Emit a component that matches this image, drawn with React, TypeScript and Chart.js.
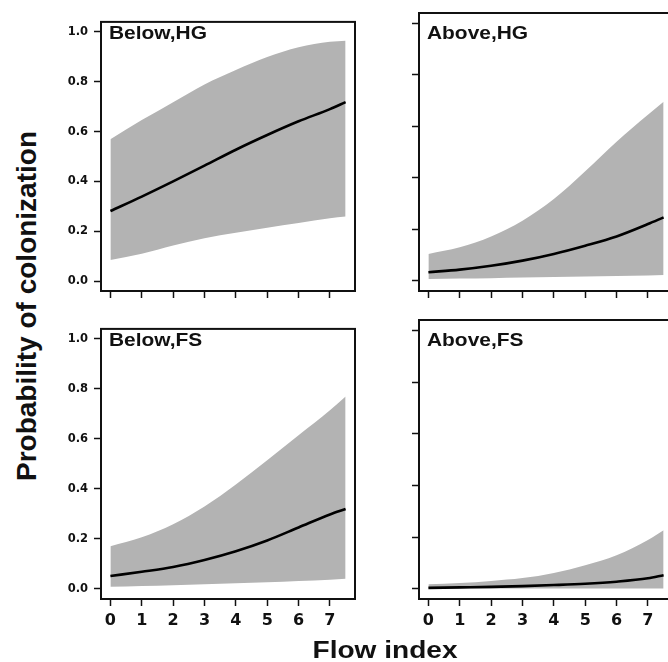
import React, { useEffect, useRef } from "react";
import { Chart, registerables } from "chart.js";
Chart.register(...registerables);

// ---- data ----
const flowIndex = [0, 1, 2, 3, 4, 5, 6, 7, 7.5];
const xTickValues = [0, 1, 2, 3, 4, 5, 6, 7];
const yTickValues = [0, 0.2, 0.4, 0.6, 0.8, 1.0];

const belowHGMean = [0.281, 0.339, 0.4, 0.463, 0.527, 0.586, 0.641, 0.69, 0.718];
const belowHGUpper = [0.569, 0.646, 0.718, 0.789, 0.847, 0.899, 0.938, 0.96, 0.964];
const belowHGLower = [0.084, 0.11, 0.143, 0.172, 0.194, 0.214, 0.233, 0.252, 0.259];

const aboveHGMean = [0.033, 0.043, 0.058, 0.078, 0.104, 0.136, 0.172, 0.22, 0.246];
const aboveHGUpper = [0.104, 0.13, 0.172, 0.233, 0.317, 0.425, 0.54, 0.645, 0.695];
const aboveHGLower = [0.007, 0.009, 0.01, 0.012, 0.014, 0.016, 0.018, 0.02, 0.022];

const belowFSMean = [0.052, 0.069, 0.088, 0.116, 0.151, 0.194, 0.246, 0.298, 0.32];
const belowFSUpper = [0.171, 0.207, 0.259, 0.33, 0.418, 0.515, 0.615, 0.715, 0.77];
const belowFSLower = [0.009, 0.012, 0.015, 0.019, 0.023, 0.027, 0.032, 0.037, 0.041];

const aboveFSMean = [0.003, 0.005, 0.007, 0.01, 0.014, 0.019, 0.027, 0.04, 0.052];
const aboveFSUpper = [0.017, 0.022, 0.03, 0.041, 0.061, 0.091, 0.129, 0.188, 0.226];
const aboveFSLower = [0.001, 0.001, 0.001, 0.001, 0.001, 0.001, 0.001, 0.001, 0.001];

const xTitle = "Flow index";
const yTitle = "Probability of colonization";

// ---- layout ----
const YW = 45; // fixed y-axis width
const XH = 40; // fixed x-axis height
const PT = 4;
const PR = 4;

const frame = {
  id: "frame",
  afterDatasetsDraw(chart: any) {
    const { ctx, chartArea: a } = chart;
    ctx.save();
    ctx.strokeStyle = "#111";
    ctx.lineWidth = 2;
    ctx.strokeRect(a.left, a.top, a.right - a.left, a.bottom - a.top);
    ctx.restore();
  },
};

type PanelProps = {
  left: number;
  top: number;
  w: number;
  h: number;
  label: string;
  mean: number[];
  upper: number[];
  lower: number[];
  showY: boolean;
  showX: boolean;
};

function Panel(p: PanelProps) {
  const ref = useRef<HTMLCanvasElement>(null);
  const cw = YW + p.w + PR;
  const ch = PT + p.h + XH;
  useEffect(() => {
    const toPts = (arr: number[]) => flowIndex.map((x, i) => ({ x, y: arr[i] }));
    const chart = new Chart(ref.current!, {
      type: "line",
      data: {
        datasets: [
          {
            data: toPts(p.mean),
            borderColor: "#000",
            borderWidth: 2.6,
            pointRadius: 0,
            fill: false,
            cubicInterpolationMode: "monotone",
          },
          {
            data: toPts(p.upper),
            borderColor: "rgba(0,0,0,0)",
            borderWidth: 0,
            backgroundColor: "#b3b3b3",
            pointRadius: 0,
            fill: "+1",
            cubicInterpolationMode: "monotone",
          },
          {
            data: toPts(p.lower),
            borderColor: "rgba(0,0,0,0)",
            borderWidth: 0,
            pointRadius: 0,
            fill: false,
            cubicInterpolationMode: "monotone",
          },
        ],
      } as any,
      options: {
        animation: false,
        responsive: false,
        devicePixelRatio: 1,
        layout: { padding: { left: 0, top: PT, right: PR, bottom: 0 } },
        plugins: { legend: { display: false }, tooltip: { enabled: false } },
        events: [],
        scales: {
          x: {
            type: "linear",
            min: -0.3,
            max: 7.8,
            afterFit: (s: any) => {
              s.height = XH;
            },
            afterBuildTicks: (s: any) => {
              s.ticks = xTickValues.map((v) => ({ value: v }));
            },
            border: { display: false },
            grid: {
              drawOnChartArea: false,
              drawTicks: true,
              tickLength: 7,
              tickColor: "#111",
              tickWidth: 1.5,
              color: "#111",
            },
            ticks: {
              display: p.showX,
              padding: 5,
              color: "#111",
              maxRotation: 0,
              autoSkip: false,
              font: { family: "'DejaVu Sans', sans-serif", weight: "bold", size: 16 },
              callback: (v: any) => String(v),
            },
          },
          y: {
            type: "linear",
            min: -0.04,
            max: 1.04,
            afterFit: (s: any) => {
              s.width = YW;
            },
            afterBuildTicks: (s: any) => {
              s.ticks = yTickValues.map((v) => ({ value: v }));
            },
            border: { display: false },
            grid: {
              drawOnChartArea: false,
              drawTicks: true,
              tickLength: 7,
              tickColor: "#111",
              tickWidth: 1.5,
              color: "#111",
            },
            ticks: {
              display: p.showY,
              padding: 6,
              color: "#111",
              autoSkip: false,
              font: { family: "'DejaVu Sans', sans-serif", weight: "bold", size: 11.5 },
              callback: (v: any) => Number(v).toFixed(1),
            },
          },
        },
      } as any,
      plugins: [frame],
    });
    return () => chart.destroy();
  }, []);
  return (
    <>
      <canvas
        ref={ref}
        width={cw}
        height={ch}
        style={{ position: "absolute", left: p.left - YW, top: p.top - PT, width: cw, height: ch }}
      />
      <div
        style={{
          position: "absolute",
          left: p.left + 8,
          top: p.top + 10.7,
          fontFamily: "'Liberation Sans', Arial, sans-serif",
          fontWeight: "bold",
          fontSize: 18.5,
          lineHeight: "18.5px",
          whiteSpace: "nowrap",
          color: "#111",
          transform: "scaleX(1.13)",
          transformOrigin: "left top",
        }}
      >
        {p.label}
      </div>
    </>
  );
}

export default function App() {
  const W = 254;
  const H = 278;
  return (
    <div
      style={{
        position: "fixed",
        left: 0,
        top: 0,
        width: 668,
        height: 662,
        overflow: "hidden",
        background: "#fff",
      }}
    >
      <Panel left={101} top={13} w={W} h={H} label="Below,HG" mean={belowHGMean} upper={belowHGUpper} lower={belowHGLower} showY={true} showX={false} />
      <Panel left={419} top={13} w={W} h={H} label="Above,HG" mean={aboveHGMean} upper={aboveHGUpper} lower={aboveHGLower} showY={false} showX={false} />
      <Panel left={101} top={320} w={W} h={279} label="Below,FS" mean={belowFSMean} upper={belowFSUpper} lower={belowFSLower} showY={true} showX={true} />
      <Panel left={419} top={320} w={W} h={279} label="Above,FS" mean={aboveFSMean} upper={aboveFSUpper} lower={aboveFSLower} showY={false} showX={true} />
      <div
        style={{
          position: "absolute",
          left: 384.5 - 200,
          top: 638.5,
          width: 400,
          textAlign: "center",
          fontFamily: "'Liberation Sans', Arial, sans-serif",
          fontWeight: "bold",
          fontSize: 23,
          lineHeight: "23px",
          color: "#111",
          transform: "scaleX(1.22)",
          transformOrigin: "center top",
          whiteSpace: "nowrap",
        }}
      >
        {xTitle}
      </div>
      <div
        style={{
          position: "absolute",
          left: 26.5 - 250,
          top: 306 - 14,
          width: 500,
          textAlign: "center",
          fontFamily: "'Liberation Sans', Arial, sans-serif",
          fontWeight: "bold",
          fontSize: 28,
          lineHeight: "28px",
          color: "#111",
          transform: "rotate(-90deg)",
          transformOrigin: "center center",
          whiteSpace: "nowrap",
        }}
      >
        {yTitle}
      </div>
    </div>
  );
}
